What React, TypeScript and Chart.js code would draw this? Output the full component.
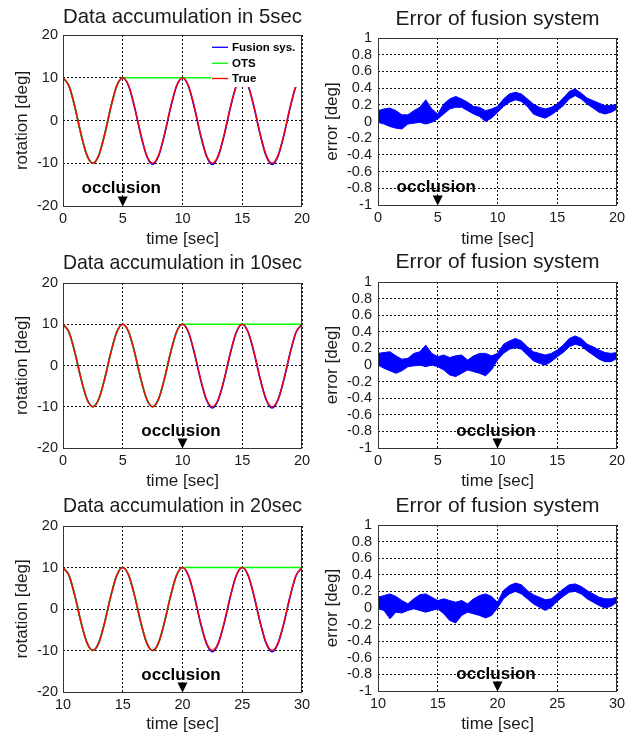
import React, { useEffect, useRef } from 'react';
import { Chart, registerables } from 'chart.js';

Chart.register(...registerables);

// ---------------- data ----------------
const timeA = [0, 0.5, 1, 1.5, 2, 2.5, 3, 3.5, 4, 4.5, 5, 5.5, 6, 6.5, 7, 7.5, 8, 8.5, 9, 9.5, 10, 10.5, 11, 11.5, 12, 12.5, 13, 13.5, 14, 14.5, 15, 15.5, 16, 16.5, 17, 17.5, 18, 18.5, 19, 19.5, 20];
const timeB = [10, 10.5, 11, 11.5, 12, 12.5, 13, 13.5, 14, 14.5, 15, 15.5, 16, 16.5, 17, 17.5, 18, 18.5, 19, 19.5, 20, 20.5, 21, 21.5, 22, 22.5, 23, 23.5, 24, 24.5, 25, 25.5, 26, 26.5, 27, 27.5, 28, 28.5, 29, 29.5, 30];

const trueRotation = [10, 8.1, 3.1, -3.1, -8.1, -10, -8.1, -3.1, 3.1, 8.1, 10, 8.1, 3.1, -3.1, -8.1, -10, -8.1, -3.1, 3.1, 8.1, 10, 8.1, 3.1, -3.1, -8.1, -10, -8.1, -3.1, 3.1, 8.1, 10, 8.1, 3.1, -3.1, -8.1, -10, -8.1, -3.1, 3.1, 8.1, 10];

const fusionRotation5 = [10, 8.1, 3.1, -3.1, -8.1, -10, -8.1, -3.1, 3.1, 8.1, 10, 8.0, 2.9, -3.3, -8.3, -10.25, -8.3, -3.3, 2.9, 8.0, 10, 8.0, 2.9, -3.3, -8.3, -10.3, -8.3, -3.3, 2.9, 8.0, 10, 8.0, 2.9, -3.3, -8.3, -10.3, -8.3, -3.3, 2.9, 8.0, 10];
const fusionRotation10 = [10, 8.1, 3.1, -3.1, -8.1, -10, -8.1, -3.1, 3.1, 8.1, 10, 8.1, 3.1, -3.1, -8.1, -10, -8.1, -3.1, 3.1, 8.1, 10, 8.0, 2.9, -3.3, -8.3, -10.3, -8.3, -3.3, 2.9, 8.0, 10, 8.0, 2.9, -3.3, -8.3, -10.3, -8.3, -3.3, 2.9, 8.0, 10];
const fusionRotation20 = [10, 8.1, 3.1, -3.1, -8.1, -10, -8.1, -3.1, 3.1, 8.1, 10, 8.1, 3.1, -3.1, -8.1, -10, -8.1, -3.1, 3.1, 8.1, 10, 8.0, 2.9, -3.3, -8.3, -10.3, -8.3, -3.3, 2.9, 8.0, 10, 8.0, 2.9, -3.3, -8.3, -10.3, -8.3, -3.3, 2.9, 8.0, 10];

const otsRotation5 = [10, 8.1, 3.1, -3.1, -8.1, -10, -8.1, -3.1, 3.1, 8.1, 10, 10, 10, 10, 10, 10, 10, 10, 10, 10, 10, 10, 10, 10, 10, 10, 10, 10, 10, 10, 10, 10, 10, 10, 10, 10, 10, 10, 10, 10, 10];
const otsRotation10 = [10, 8.1, 3.1, -3.1, -8.1, -10, -8.1, -3.1, 3.1, 8.1, 10, 8.1, 3.1, -3.1, -8.1, -10, -8.1, -3.1, 3.1, 8.1, 10, 10, 10, 10, 10, 10, 10, 10, 10, 10, 10, 10, 10, 10, 10, 10, 10, 10, 10, 10, 10];
const otsRotation20 = [10, 8.1, 3.1, -3.1, -8.1, -10, -8.1, -3.1, 3.1, 8.1, 10, 8.1, 3.1, -3.1, -8.1, -10, -8.1, -3.1, 3.1, 8.1, 10, 10, 10, 10, 10, 10, 10, 10, 10, 10, 10, 10, 10, 10, 10, 10, 10, 10, 10, 10, 10];

const errorUpper5 = [0.13, 0.15, 0.16, 0.13, 0.08, 0.08, 0.13, 0.17, 0.26, 0.15, 0.09, 0.21, 0.27, 0.30, 0.27, 0.23, 0.18, 0.17, 0.13, 0.15, 0.18, 0.27, 0.33, 0.35, 0.33, 0.27, 0.21, 0.17, 0.15, 0.17, 0.21, 0.28, 0.36, 0.39, 0.34, 0.28, 0.25, 0.22, 0.19, 0.19, 0.21];
const errorLower5 = [-0.01, -0.03, -0.06, -0.08, -0.09, -0.03, -0.02, -0.01, -0.03, -0.01, 0.03, 0.09, 0.15, 0.17, 0.17, 0.13, 0.09, 0.06, 0.0, 0.04, 0.11, 0.18, 0.23, 0.26, 0.24, 0.18, 0.09, 0.06, 0.04, 0.08, 0.13, 0.19, 0.27, 0.31, 0.27, 0.21, 0.16, 0.11, 0.09, 0.11, 0.15];
const errorUpper10 = [0.14, 0.15, 0.16, 0.11, 0.07, 0.08, 0.14, 0.16, 0.24, 0.14, 0.10, 0.12, 0.09, 0.11, 0.12, 0.06, 0.11, 0.14, 0.14, 0.11, 0.14, 0.25, 0.29, 0.32, 0.29, 0.22, 0.16, 0.14, 0.12, 0.14, 0.18, 0.24, 0.32, 0.35, 0.32, 0.25, 0.22, 0.18, 0.15, 0.14, 0.15];
const errorLower10 = [0.0, -0.04, -0.07, -0.10, -0.07, -0.02, -0.01, 0.0, -0.02, 0.0, -0.02, -0.06, -0.12, -0.14, -0.10, -0.06, -0.08, -0.10, -0.13, -0.06, 0.06, 0.14, 0.19, 0.21, 0.19, 0.12, 0.05, 0.02, 0.0, 0.04, 0.10, 0.15, 0.22, 0.25, 0.23, 0.17, 0.12, 0.07, 0.04, 0.04, 0.08];
const errorUpper20 = [0.13, 0.15, 0.17, 0.14, 0.09, 0.05, 0.11, 0.16, 0.17, 0.13, 0.09, 0.11, 0.09, 0.07, 0.09, 0.05, 0.11, 0.15, 0.17, 0.14, 0.07, 0.21, 0.27, 0.30, 0.28, 0.21, 0.16, 0.13, 0.10, 0.11, 0.17, 0.23, 0.28, 0.29, 0.26, 0.21, 0.17, 0.13, 0.11, 0.11, 0.13];
const errorLower20 = [-0.01, -0.03, -0.13, -0.05, -0.06, -0.03, -0.01, -0.03, -0.05, -0.03, -0.01, -0.07, -0.15, -0.18, -0.09, -0.05, -0.07, -0.09, -0.12, -0.09, 0.0, 0.11, 0.17, 0.20, 0.17, 0.11, 0.05, 0.01, -0.03, 0.01, 0.08, 0.14, 0.19, 0.20, 0.17, 0.11, 0.07, 0.03, 0.0, 0.02, 0.07];

const rotationTicks = [-20, -10, 0, 10, 20];
const errorTicks = [-1, -0.8, -0.6, -0.4, -0.2, 0, 0.2, 0.4, 0.6, 0.8, 1];
const timeTicksA = [0, 5, 10, 15, 20];
const timeTicksB = [10, 15, 20, 25, 30];

const accumulationTitles = ['Data accumulation in 5sec', 'Data accumulation in 10sec', 'Data accumulation in 20sec'];
const errorTitle = 'Error of fusion system';
const occlusionTimes = [5, 10, 20];
const occlusionLabelRotation = -17;
const occlusionLabelError = -0.85;
const legendLabels = ['Fusion sys.', 'OTS', 'True'];

// ---------------- layout ----------------
const FONT = "'Liberation Sans', Arial, Helvetica, sans-serif";
const COLORS = { fusion: '#0000ff', ots: '#00ff00', truth: '#ff0000' };

type Area = { L: number; T: number; R: number; B: number };
type PanelCfg = {
  kind: 'rot' | 'err';
  idx: number;
  left: number;
  top: number;
  width: number;
  height: number;
  area: Area;
  titleY: number;
  xTitleY: number;
  yTitleX: number;
  yTickPad: number;
};

const panels: PanelCfg[] = [
  { kind: 'rot', idx: 0, left: 0, top: 0, width: 317, height: 250, area: { L: 63, T: 35, R: 302, B: 206 }, titleY: 17, xTitleY: 240, yTitleX: 22.5, yTickPad: 5 },
  { kind: 'err', idx: 0, left: 318, top: 0, width: 317, height: 250, area: { L: 378, T: 38, R: 617, B: 205 }, titleY: 19, xTitleY: 239, yTitleX: 332.5, yTickPad: 6 },
  { kind: 'rot', idx: 1, left: 0, top: 250, width: 317, height: 242, area: { L: 63, T: 283, R: 302, B: 448 }, titleY: 263, xTitleY: 481, yTitleX: 22.5, yTickPad: 5 },
  { kind: 'err', idx: 1, left: 318, top: 250, width: 317, height: 242, area: { L: 378, T: 282, R: 617, B: 448 }, titleY: 262.5, xTitleY: 481, yTitleX: 332.5, yTickPad: 6 },
  { kind: 'rot', idx: 2, left: 0, top: 492, width: 317, height: 245, area: { L: 63, T: 526, R: 302, B: 692 }, titleY: 506, xTitleY: 724, yTitleX: 22.5, yTickPad: 5 },
  { kind: 'err', idx: 2, left: 318, top: 492, width: 317, height: 245, area: { L: 378, T: 525, R: 617, B: 691 }, titleY: 506.5, xTitleY: 724, yTitleX: 332.5, yTickPad: 6 },
];

const rotationSets = [
  { fusion: fusionRotation5, ots: otsRotation5 },
  { fusion: fusionRotation10, ots: otsRotation10 },
  { fusion: fusionRotation20, ots: otsRotation20 },
];
const errorSets = [
  { upper: errorUpper5, lower: errorLower5 },
  { upper: errorUpper10, lower: errorLower10 },
  { upper: errorUpper20, lower: errorLower20 },
];

const pts = (xs: number[], ys: number[]) => xs.map((x, i) => ({ x, y: ys[i] }));

function buildConfig(p: PanelCfg): any {
  const isRot = p.kind === 'rot';
  const time = p.idx === 2 ? timeB : timeA;
  const tTicks = p.idx === 2 ? timeTicksB : timeTicksA;
  const yTicks = isRot ? rotationTicks : errorTicks;
  const occ = occlusionTimes[p.idx];

  const titleSize = 21;
  const titleLH = titleSize * 1.2;
  const chartTopRel = p.area.T - p.top;
  const titlePadTop = Math.max(0, p.titleY - p.top - titleLH / 2);
  const titlePadBottom = chartTopRel - titleLH - titlePadTop;

  const axisTitleSize = 17;
  const axisTitleLH = axisTitleSize * 1.2;
  const xTitlePadBottom = Math.max(0, p.top + p.height - p.xTitleY - axisTitleLH / 2);
  const yTitlePadTop = Math.max(0, p.yTitleX - p.left - axisTitleLH / 2);

  const common = { pointRadius: 0, pointHoverRadius: 0, fill: false };
  let datasets: any[];
  if (isRot) {
    const set = rotationSets[p.idx];
    datasets = [
      { ...common, label: 'True', data: pts(time, trueRotation), borderColor: COLORS.truth, borderWidth: 1.4, cubicInterpolationMode: 'monotone' },
      { ...common, label: 'OTS', data: pts(time, set.ots), borderColor: COLORS.ots, borderWidth: 1.6, cubicInterpolationMode: 'monotone' },
      { ...common, label: 'Fusion sys.', data: pts(time, set.fusion), borderColor: COLORS.fusion, borderWidth: 1.6, cubicInterpolationMode: 'monotone' },
    ];
  } else {
    const set = errorSets[p.idx];
    datasets = [
      { ...common, label: 'upper', data: pts(time, set.upper), borderColor: COLORS.fusion, backgroundColor: COLORS.fusion, borderWidth: 1, tension: 0, fill: '+1' },
      { ...common, label: 'lower', data: pts(time, set.lower), borderColor: COLORS.fusion, borderWidth: 1, tension: 0 },
    ];
  }

  const framePlugin = {
    id: 'frame' + p.kind + p.idx,
    afterDraw(chart: any) {
      const { ctx, chartArea: a } = chart;
      ctx.save();
      ctx.strokeStyle = '#333333';
      ctx.lineWidth = 1;
      ctx.setLineDash([]);
      const x0 = Math.round(a.left) + 0.5;
      const x1 = Math.round(a.right) - 0.5;
      const y0 = Math.round(a.top) + 0.5;
      const y1 = Math.round(a.bottom) + 0.5;
      ctx.strokeRect(x0, y0, x1 - x0, y1 - y0);
      ctx.restore();
    },
  };

  const occlusionPlugin = {
    id: 'occlusion' + p.kind + p.idx,
    afterDatasetsDraw(chart: any) {
      const { ctx, chartArea: a, scales } = chart;
      const px = scales.x.getPixelForValue(occ);
      const py = scales.y.getPixelForValue(isRot ? occlusionLabelRotation : occlusionLabelError);
      ctx.save();
      ctx.fillStyle = '#000000';
      ctx.font = `bold 17px ${FONT}`;
      ctx.textAlign = 'center';
      ctx.textBaseline = 'alphabetic';
      ctx.fillText('occlusion', px - 1.5, py);
      const by = Math.round(a.bottom) + 0.5;
      ctx.beginPath();
      ctx.moveTo(px - 5, by - 10);
      ctx.lineTo(px + 5, by - 10);
      ctx.lineTo(px, by);
      ctx.closePath();
      ctx.fill();
      ctx.restore();
    },
  };

  const legendPlugin = {
    id: 'boxlegend',
    afterDatasetsDraw(chart: any) {
      const { ctx, chartArea: a } = chart;
      const w = 91;
      const h = 52;
      const x0 = a.right - w;
      const y0 = a.top;
      ctx.save();
      ctx.fillStyle = '#ffffff';
      ctx.fillRect(x0, y0, w, h);
      const colors = [COLORS.fusion, COLORS.ots, COLORS.truth];
      const rows = [12.3, 28.3, 43.5];
      ctx.font = `bold 11.5px ${FONT}`;
      ctx.textBaseline = 'middle';
      ctx.textAlign = 'left';
      legendLabels.forEach((lab, i) => {
        const yy = y0 + rows[i];
        ctx.strokeStyle = colors[i];
        ctx.lineWidth = 1.3;
        ctx.beginPath();
        ctx.moveTo(x0 + 1, yy);
        ctx.lineTo(x0 + 17, yy);
        ctx.stroke();
        ctx.fillStyle = '#000000';
        ctx.fillText(lab, x0 + 21, yy + 0.5);
      });
      ctx.restore();
    },
  };

  const plugins: any[] = [occlusionPlugin];
  if (isRot && p.idx === 0) plugins.push(legendPlugin);
  plugins.push(framePlugin);

  const gridColor = '#111111';

  return {
    type: 'line',
    data: { datasets },
    plugins,
    options: {
      responsive: false,
      maintainAspectRatio: false,
      animation: false,
      events: [],
      layout: { padding: { left: 0, right: p.left + p.width - p.area.R, top: 0, bottom: 0 } },
      plugins: {
        legend: { display: false },
        tooltip: { enabled: false },
        title: {
          display: true,
          text: isRot ? accumulationTitles[p.idx] : errorTitle,
          fullSize: false,
          color: '#1a1a1a',
          font: { family: FONT, size: titleSize, weight: 'normal', lineHeight: 1.2 },
          padding: { top: titlePadTop, bottom: titlePadBottom },
        },
      },
      scales: {
        x: {
          type: 'linear',
          min: tTicks[0],
          max: tTicks[tTicks.length - 1],
          afterBuildTicks: (s: any) => { s.ticks = tTicks.map((v) => ({ value: v })); },
          afterFit: (s: any) => { s.height = p.top + p.height - p.area.B; },
          grid: { color: gridColor, lineWidth: 1, drawTicks: false },
          border: { display: false, dash: [2, 2] },
          ticks: {
            color: '#1a1a1a',
            padding: 4,
            maxRotation: 0,
            autoSkip: false,
            font: { family: FONT, size: 14.5, lineHeight: 1.2 },
            callback: (v: any) => String(v),
          },
          title: {
            display: true,
            text: 'time [sec]',
            color: '#1a1a1a',
            font: { family: FONT, size: axisTitleSize, lineHeight: 1.2 },
            padding: { top: 0, bottom: xTitlePadBottom },
          },
        },
        y: {
          type: 'linear',
          min: yTicks[0],
          max: yTicks[yTicks.length - 1],
          afterBuildTicks: (s: any) => { s.ticks = yTicks.map((v) => ({ value: v })); },
          afterFit: (s: any) => { s.width = p.area.L - p.left; },
          grid: { color: gridColor, lineWidth: 1, drawTicks: false },
          border: { display: false, dash: [2, 2] },
          ticks: {
            color: '#1a1a1a',
            padding: p.yTickPad,
            autoSkip: false,
            font: { family: FONT, size: 14.5, lineHeight: 1.2 },
            callback: (v: any) => String(Math.round(Number(v) * 10) / 10),
          },
          title: {
            display: true,
            text: isRot ? 'rotation [deg]' : 'error [deg]',
            color: '#1a1a1a',
            font: { family: FONT, size: axisTitleSize, lineHeight: 1.2 },
            padding: { top: yTitlePadTop, bottom: 0 },
          },
        },
      },
    },
  };
}

function Panel({ cfg }: { cfg: PanelCfg }) {
  const ref = useRef<HTMLCanvasElement | null>(null);
  useEffect(() => {
    if (!ref.current) return;
    const chart = new Chart(ref.current, buildConfig(cfg));
    return () => chart.destroy();
  }, [cfg]);
  return (
    <canvas
      ref={ref}
      width={cfg.width}
      height={cfg.height}
      style={{ position: 'absolute', left: cfg.left, top: cfg.top, width: cfg.width, height: cfg.height }}
    />
  );
}

export default function App() {
  return (
    <div style={{ position: 'absolute', left: 0, top: 0, width: 635, height: 737, background: '#ffffff', overflow: 'hidden' }}>
      {panels.map((p, i) => (
        <Panel key={i} cfg={p} />
      ))}
    </div>
  );
}
